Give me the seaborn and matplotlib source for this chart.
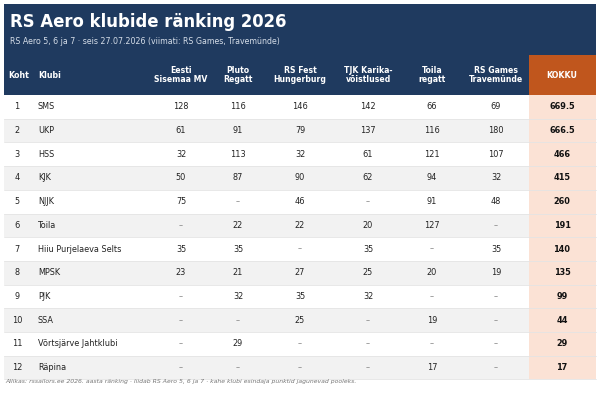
import matplotlib.pyplot as plt
import matplotlib.patches as mpatches
import seaborn as sns
import pandas as pd
import numpy as np

sns.set_style("white")
plt.rcParams['font.family'] = ['DejaVu Sans']

# Data
ranks = list(range(1, 13))
clubs = ['SMS', 'UKP', 'HSS', 'KJK', 'NJJK', 'Toila', 'Hiiu Purjelaeva Selts',
         'MPSK', 'PJK', 'SSA', 'Võrtsjärve Jahtklubi', 'Räpina']
events = ['Eesti\nSisemaa MV', 'Pluto\nRegatt', 'RS Fest\nHungerburg',
          'TJK Karika-\nvõistlused', 'Toila\nregatt', 'RS Games\nTravemünde']
eesti_mv = [128, 61, 32, 50, 75, None, 35, 23, None, None, None, None]
pluto = [116, 91, 113, 87, None, 22, 35, 21, 32, None, 29, None]
rs_fest = [146, 79, 32, 90, 46, 22, None, 27, 35, 25, None, None]
tjk = [142, 137, 61, 62, None, 20, 35, 25, 32, None, None, None]
toila = [66, 116, 121, 94, 91, 127, None, 20, None, 19, None, 17]
rs_games = [69, 180, 107, 32, 48, None, 35, 19, None, None, None, None]
kokku = [669.5, 666.5, 466, 415, 260, 191, 140, 135, 99, 44, 29, 17]

df = pd.DataFrame({'Koht': ranks, 'Klubi': clubs, events[0]: eesti_mv,
                   events[1]: pluto, events[2]: rs_fest, events[3]: tjk,
                   events[4]: toila, events[5]: rs_games, 'KOKKU': kokku})

NAVY = '#1f3a5f'
ORANGE = '#c0561d'
PEACH = '#fbe2d5'
STRIPE = '#f2f2f2'
TEXT = '#222222'
FS = 5.9


def fmt(v):
    if v is None or (isinstance(v, float) and np.isnan(v)):
        return '–'
    if float(v).is_integer():
        return f'{int(v)}'
    return f'{v:.1f}'


fig = plt.figure(figsize=(6.0, 4.04), dpi=100)
ax = fig.add_axes([0, 0, 1, 1])
ax.set_xlim(0, 600)
ax.set_ylim(404, 0)
ax.axis('off')

left, right = 4, 596
top, head_bot = 4, 95
row_h = 23.7
kok_l = 529
event_x = [181, 238, 300, 368, 432, 496]
kok_x = 562

# header block
ax.add_patch(mpatches.Rectangle((left, top), right - left, head_bot - top,
                                color=NAVY, lw=0))
ax.add_patch(mpatches.Rectangle((kok_l, 55), right - kok_l, head_bot - 55,
                                color=ORANGE, lw=0))
ax.text(10, 22, 'RS Aero klubide ränking 2026', color='white',
        fontsize=11.9, fontweight='bold', va='center', ha='left')
ax.text(10, 41, 'RS Aero 5, 6 ja 7 · seis 27.07.2026 (viimati: RS Games, Travemünde)',
        color='#d5dde8', fontsize=5.7, va='center', ha='left')

hy = 75
ax.text(8, hy, 'Koht', color='white', fontsize=5.7, fontweight='bold',
        va='center', ha='left')
ax.text(38, hy, 'Klubi', color='white', fontsize=5.7, fontweight='bold',
        va='center', ha='left')
for x, ev in zip(event_x, events):
    ax.text(x, hy, ev, color='white', fontsize=5.6, fontweight='bold',
            va='center', ha='center', linespacing=1.1)
ax.text(kok_x, hy, 'KOKKU', color='white', fontsize=5.7, fontweight='bold',
        va='center', ha='center')

# body rows
for i, row in df.iterrows():
    y0 = head_bot + i * row_h
    yc = y0 + row_h / 2
    bg = 'white' if i % 2 == 0 else STRIPE
    ax.add_patch(mpatches.Rectangle((left, y0), kok_l - left, row_h,
                                    color=bg, lw=0))
    ax.add_patch(mpatches.Rectangle((kok_l, y0), right - kok_l, row_h,
                                    color=PEACH, lw=0))
    ax.plot([left, right], [y0 + row_h, y0 + row_h], color='#e4e4e4', lw=0.6)
    ax.text(17, yc, str(row['Koht']), color=TEXT, fontsize=FS,
            va='center', ha='center')
    ax.text(38, yc, row['Klubi'], color=TEXT, fontsize=FS,
            va='center', ha='left')
    for x, ev in zip(event_x, events):
        s = fmt(row[ev])
        ax.text(x, yc, s, color=TEXT if s != '–' else '#888888',
                fontsize=FS, va='center', ha='center')
    ax.text(kok_x, yc, fmt(row['KOKKU']), color='#111111', fontsize=FS,
            fontweight='bold', va='center', ha='center')

ax.text(5, 382, 'Allikas: rssailors.ee 2026. aasta ränking · liidab RS Aero 5, 6 ja 7 · '
        'kahe klubi esindaja punktid jagunevad pooleks.',
        color='#777777', fontsize=4.45, style='italic', va='center', ha='left')

fig.savefig('out.png', dpi=100, facecolor='white')
